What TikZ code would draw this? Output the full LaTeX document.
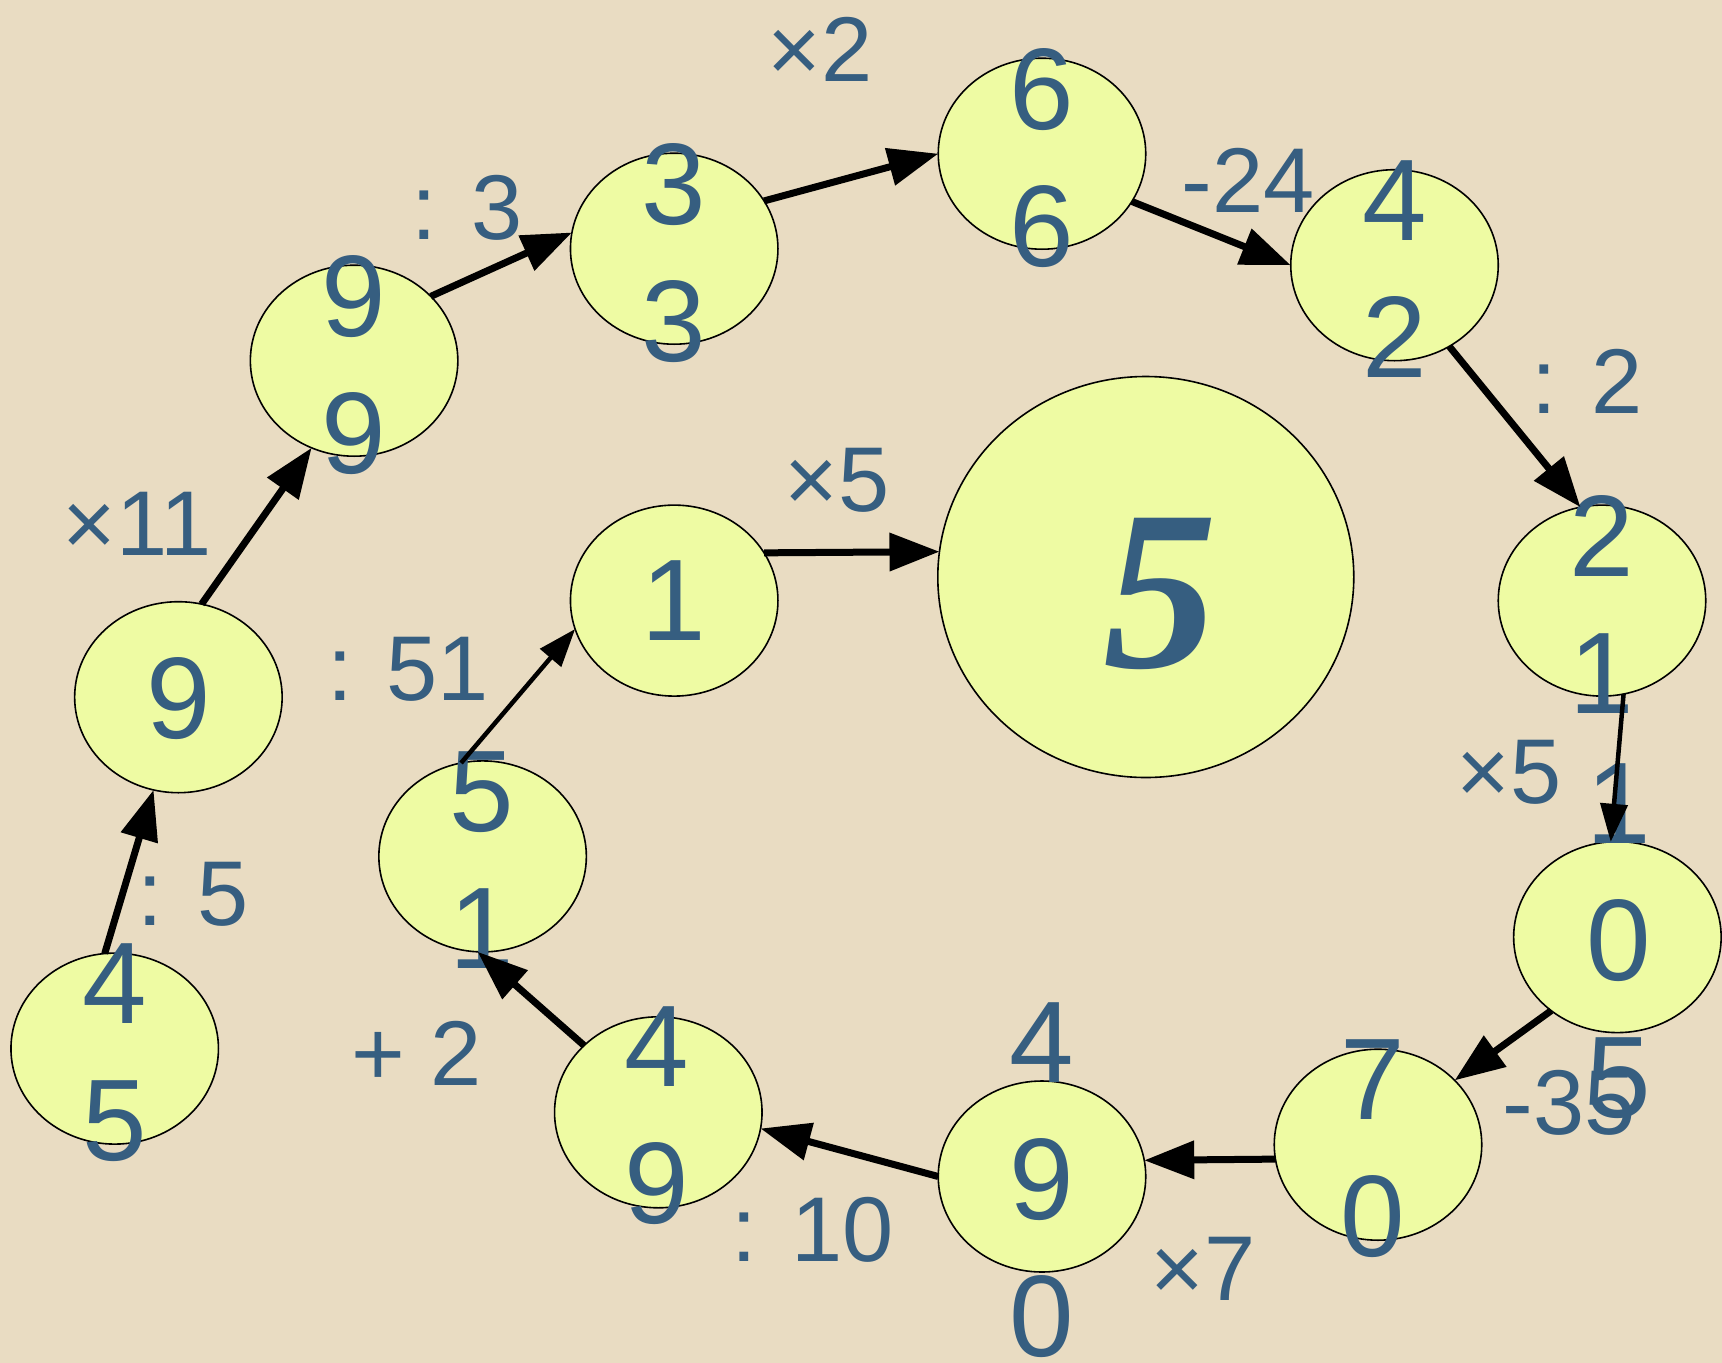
\documentclass[tikz,border=0pt]{standalone}
\usepackage{fontspec}
\setmainfont{Liberation Sans}
\newfontfamily\fivefont{Liberation Serif}
\usetikzlibrary{shapes.geometric,arrows.meta}
\definecolor{bgc}{RGB}{233,220,194}
\definecolor{fillc}{RGB}{238,251,163}
\definecolor{txtc}{RGB}{54,94,128}
\begin{document}
\begin{tikzpicture}[x=1pt,y=-1pt,
  ell/.style={ellipse, draw=black, line width=1.6pt, fill=fillc, minimum width=207.5pt, minimum height=191pt, inner sep=0pt, outer sep=0pt},
  bigell/.style={ell, minimum width=416pt, minimum height=401pt},
  num/.style={text=txtc, font=\fontsize{116}{137}\selectfont, align=center, inner sep=0pt},
  lab/.style={text=txtc, font=\fontsize{92}{110}\selectfont, inner sep=0pt},
  arr/.style={line width=7pt, -{Triangle[length=50pt,width=37pt]}},
  arrthin/.style={line width=4.5pt, -{Triangle[length=38pt,width=27pt]}},
]
\fill[bgc] (0,0) rectangle (1722,1363);
\useasboundingbox (0,0) rectangle (1722,1363);

% ellipses
\node[ell] (n45) at (114.7,1048.6) {};
\node[ell] (n9) at (178.4,697.2) {};
\node[ell] (n99) at (354.1,360.7) {};
\node[ell] (n33) at (674.2,248.7) {};
\node[ell] (n66) at (1042,153.7) {};
\node[ell] (n42) at (1394.5,265.2) {};
\node[ell] (n21) at (1602,600.6) {};
\node[ell] (n105) at (1617.4,937.1) {};
\node[ell] (n70) at (1378,1144.7) {};
\node[ell] (n490) at (1042,1176.5) {};
\node[ell] (n49) at (658.3,1112.3) {};
\node[ell] (n51) at (482.6,856.4) {};
\node[ell] (n1) at (674.2,600.6) {};
\node[bigell] (n5) at (1145.8,577) {};

% node texts
\node[num] (t45) at (114.7,1052.6) {4\\5};
\node[num] (t9) at (178.4,699) {9};
\node[num] (t99) at (354.1,364.7) {9\\9};
\node[num] (t33) at (674.2,252.7) {3\\3};
\node[num] (t66) at (1042,157.7) {6\\6};
\node[num] (t42) at (1394.5,269.2) {4\\2};
\node[num] (t21) at (1602,604.6) {2\\1};
\node[num] (t105) at (1619,941) {1\\0\\5};
\node[num] (t70) at (1373,1149) {7\\0};
\node[num] (t490) at (1042,1180) {4\\9\\0};
\node[num] (t49) at (657,1116) {4\\9};
\node[num] (t51) at (482,860) {5\\1};
\node[num] (t1) at (674.2,600.6) {1};
\node[text=txtc, font=\fivefont\bfseries\itshape\fontsize{228}{260}\selectfont, inner sep=0pt] (t5) at (1160,594) {5};

% edge labels
\node[lab] (l1) at (193,894) {: 5};
\node[lab] (l2) at (137,524) {×11};
\node[lab] (l3) at (467,207.5) {: 3};
\node[lab] (l4) at (820,49) {×2};
\node[lab] (l5) at (1248,180) {-24};
\node[lab] (l6) at (1587,381) {: 2};
\node[lab] (l7) at (1509,772) {×5};
\node[lab] (l8) at (1569,1103) {-35};
\node[lab] (l9) at (1203,1269) {×7};
\node[lab] (l10) at (812.5,1230) {: 10};
\node[lab] (l11) at (417,1053) {+ 2};
\node[lab] (l12) at (408,669) {: 51};
\node[lab] (l13) at (837,480) {×5};

% arrows
\draw[arr] (n45.96.4) -- (n9.255.7);
\draw[arr] (n9.76.7) -- (n99.244.5);
\draw[arr] (n99.40.9) -- (n33.171.3);
\draw[arr] (n33.28.2) -- (n66.180);
\draw[arr] (n66.332) -- (n42.180);
\draw[arr] (n42.304.9) -- (n21.103.6);
\draw[arrthin] (n21.283.7) -- (n105.94);
\draw[arr] (n105.228.9) -- (n70.40.6);
\draw[arr] (n70.188.1) -- (n490.9.3);
\draw[arr] (n490.180.9) -- (n49.351);
\draw[arr] (n49.138.5) -- (n51.267.7);
\draw[arrthin] (n51.103.7) -- (n1.196.4);
\draw[arr] (n1.28.5) -- (n5.173.2);
\end{tikzpicture}
\end{document}
